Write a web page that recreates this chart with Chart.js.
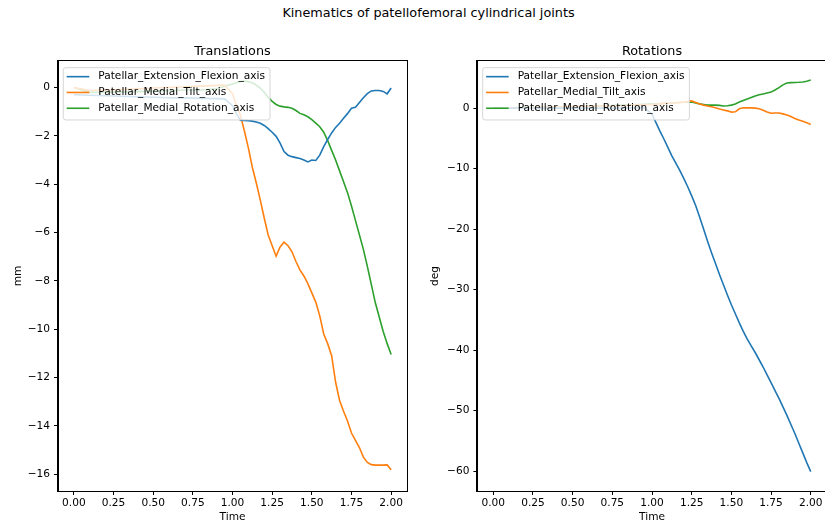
<!DOCTYPE html>
<html>
<head>
<meta charset="utf-8">
<script src="https://cdn.jsdelivr.net/npm/chart.js@4.4.0/dist/chart.umd.min.js"></script>
<style>
html, body { margin: 0; padding: 0; background: #fff; overflow: hidden; }
#page { position: relative; width: 825px; height: 531px; overflow: hidden; font-family: "DejaVu Sans", sans-serif; }
#suptitle { position: absolute; top: 4.5px; left: 0; width: 857px; text-align: center; font-size: 12.8px; line-height: 16px; color: #000; }
#leftChart { position: absolute; left: 0; top: 0; }
#rightChart { position: absolute; left: 420px; top: 0; }
</style>
</head>
<body>
<div id="page">
  <div id="suptitle">Kinematics of patellofemoral cylindrical joints</div>
  <canvas id="leftChart" width="420" height="531"></canvas>
  <canvas id="rightChart" width="420" height="531"></canvas>
</div>
<script>
// Zeitachse (s)
const time = [0, 0.1, 0.2, 0.3, 0.4, 0.5, 0.6, 0.7, 0.8, 0.9, 0.95,
  1.0, 1.025, 1.05, 1.075, 1.1, 1.125, 1.15, 1.175, 1.2, 1.225,
  1.25, 1.275, 1.3, 1.325, 1.35, 1.375, 1.4, 1.425, 1.45, 1.475,
  1.5, 1.525, 1.55, 1.575, 1.6, 1.625, 1.65, 1.675, 1.7, 1.725,
  1.75, 1.775, 1.8, 1.825, 1.85, 1.875, 1.9, 1.925, 1.95, 1.975, 2.0];

const seriesNames = ['Patellar_Extension_Flexion_axis', 'Patellar_Medial_Tilt_axis', 'Patellar_Medial_Rotation_axis'];
const seriesColors = ['#1f77b4', '#ff7f0e', '#2ca02c'];

// Translationen (mm)
const transFlexion = [-0.30, -0.32, -0.34, -0.36, -0.38, -0.40, -0.42, -0.43, -0.45, -0.46, -0.47,
  -0.75, -1.08, -1.35, -1.36, -1.37, -1.39, -1.43, -1.48, -1.57, -1.70,
  -1.85, -2.02, -2.30, -2.65, -2.80, -2.86, -2.90, -2.94, -3.00, -3.08,
  -3.00, -3.02, -2.80, -2.45, -2.15, -1.88, -1.65, -1.48, -1.27, -1.08,
  -0.86, -0.82, -0.62, -0.42, -0.25, -0.14, -0.12, -0.12, -0.16, -0.26, -0.02];
const transTilt = [0.00, -0.12, -0.10, -0.08, -0.05, -0.02, 0.00, 0.03, 0.06, 0.09, 0.10,
  -0.25, -0.75, -1.15, -1.80, -2.50, -3.30, -3.95, -4.65, -5.40, -6.10,
  -6.55, -6.98, -6.60, -6.40, -6.55, -6.80, -7.20, -7.55, -7.80, -8.12,
  -8.50, -8.88, -9.45, -10.20, -10.60, -11.10, -12.20, -12.95, -13.40, -13.80,
  -14.30, -14.60, -14.90, -15.30, -15.52, -15.61, -15.63, -15.63, -15.63, -15.62, -15.82];
const transRotation = [0.00, -0.20, -0.20, -0.18, -0.17, -0.15, -0.12, -0.10, -0.10, -0.05, 0.05,
  0.15, 0.20, 0.25, 0.27, 0.24, 0.20, 0.10, -0.02, -0.20, -0.40,
  -0.57, -0.70, -0.77, -0.80, -0.82, -0.86, -0.95, -1.07, -1.13, -1.21,
  -1.33, -1.47, -1.62, -1.85, -2.20, -2.60, -3.00, -3.45, -3.90, -4.35,
  -4.90, -5.50, -6.10, -6.70, -7.40, -8.15, -8.90, -9.50, -10.10, -10.60, -11.05];

// Rotationen (deg)
const rotFlexion = [0.00, 0.00, 0.00, 0.00, 0.00, 0.00, 0.00, 0.00, 0.00, 0.05, 0.10,
  -1.00, -2.40, -3.80, -5.10, -6.50, -7.90, -9.10, -10.30, -11.60, -13.00,
  -14.50, -16.10, -18.00, -20.00, -22.00, -23.90, -25.70, -27.50, -29.20, -30.90,
  -32.50, -34.00, -35.50, -36.90, -38.20, -39.30, -40.40, -41.60, -42.80, -44.10,
  -45.40, -46.70, -48.00, -49.40, -50.80, -52.30, -53.80, -55.40, -57.00, -58.60, -60.10];
const rotTilt = [0.00, 0.05, 0.10, 0.15, 0.20, 0.25, 0.30, 0.35, 0.40, 0.50, 0.55,
  0.60, 0.65, 0.70, 0.75, 0.80, 0.85, 0.90, 0.95, 1.00, 1.10,
  1.20, 0.95, 0.70, 0.50, 0.35, 0.22, 0.05, -0.15, -0.30, -0.45,
  -0.65, -0.60, -0.10, 0.05, 0.05, 0.05, 0.00, -0.10, -0.35, -0.62,
  -0.85, -0.80, -0.80, -0.95, -1.15, -1.40, -1.70, -1.95, -2.15, -2.40, -2.72];
const rotRotation = [0.00, 0.05, 0.10, 0.15, 0.20, 0.25, 0.30, 0.40, 0.50, 0.60, 0.65,
  0.70, 0.72, 0.75, 0.78, 0.82, 0.86, 0.90, 0.93, 0.97, 1.02,
  1.00, 0.85, 0.70, 0.60, 0.50, 0.50, 0.50, 0.45, 0.35, 0.40,
  0.50, 0.70, 1.00, 1.25, 1.50, 1.75, 2.00, 2.20, 2.35, 2.50,
  2.65, 3.00, 3.40, 3.85, 4.15, 4.22, 4.25, 4.27, 4.32, 4.45, 4.64];

// Achsenbeschriftungen
const timeTicks = [0, 0.25, 0.5, 0.75, 1.0, 1.25, 1.5, 1.75, 2.0];
const transTicks = [-16, -14, -12, -10, -8, -6, -4, -2, 0];
const rotTicks = [-60, -50, -40, -30, -20, -10, 0];

const FONT = '"DejaVu Sans", sans-serif';
const tickFont = { family: FONT, size: 10.6 };

// Rahmen um die Achsen + Legende innerhalb des Diagramms
const axesFrameAndLegend = {
    id: 'axesFrameAndLegend',
    afterDatasetsDraw(chart) {
        const ctx = chart.ctx;
        const a = chart.chartArea;
        ctx.save();
        ctx.strokeStyle = '#000';
        ctx.lineWidth = 1;
        const l = Math.round(a.left) - 0.5, t = Math.round(a.top) - 0.5;
        const r = Math.round(a.right) + 0.5, b = Math.round(a.bottom) + 0.5;
        ctx.strokeRect(l, t, r - l, b - t);

        // Legende
        ctx.font = '10.6px ' + FONT;
        const widths = chart.data.datasets.map(d => ctx.measureText(d.label).width);
        const bx = a.left + 5.3, by = a.top + 6.7;
        const bw = 35 + Math.max.apply(null, widths) + 5, bh = 52.3, rad = 2.5;
        ctx.beginPath();
        ctx.moveTo(bx + rad, by);
        ctx.lineTo(bx + bw - rad, by);
        ctx.arcTo(bx + bw, by, bx + bw, by + rad, rad);
        ctx.lineTo(bx + bw, by + bh - rad);
        ctx.arcTo(bx + bw, by + bh, bx + bw - rad, by + bh, rad);
        ctx.lineTo(bx + rad, by + bh);
        ctx.arcTo(bx, by + bh, bx, by + bh - rad, rad);
        ctx.lineTo(bx, by + rad);
        ctx.arcTo(bx, by, bx + rad, by, rad);
        ctx.closePath();
        ctx.fillStyle = 'rgba(255,255,255,0.8)';
        ctx.fill();
        ctx.strokeStyle = 'rgba(204,204,204,0.8)';
        ctx.stroke();

        chart.data.datasets.forEach(function(d, i) {
            const y = by + 9 + i * 15.8;
            ctx.beginPath();
            ctx.strokeStyle = d.borderColor;
            ctx.lineWidth = 1.6;
            ctx.moveTo(bx + 3.4, y);
            ctx.lineTo(bx + 26, y);
            ctx.stroke();
            ctx.fillStyle = '#000';
            ctx.textBaseline = 'middle';
            ctx.textAlign = 'left';
            ctx.fillText(d.label, bx + 35, y);
        });
        ctx.restore();
    }
};

function makeChart(canvasId, title, yLabel, series, yTicks, yMin, yMax, padLeft, yWidth, padRight) {
    const datasets = series.map(function(values, i) {
        return {
            label: seriesNames[i],
            data: time.map((t, k) => ({ x: t, y: values[k] })),
            borderColor: seriesColors[i],
            backgroundColor: seriesColors[i],
            borderWidth: 1.6,
            pointRadius: 0,
            tension: 0,
            fill: false
        };
    });

    const ctx = document.getElementById(canvasId).getContext('2d');
    return new Chart(ctx, {
        type: 'line',
        data: { datasets: datasets },
        plugins: [axesFrameAndLegend],
        options: {
            responsive: false,
            animation: false,
            layout: { padding: { left: padLeft, top: 43.8, right: padRight, bottom: 7 } },
            plugins: {
                legend: { display: false },
                tooltip: { enabled: false },
                title: {
                    display: true,
                    text: title,
                    fullSize: false,
                    color: '#000',
                    font: { family: FONT, size: 12.8, weight: 'normal' },
                    padding: { top: 0, bottom: 1.8 }
                }
            },
            scales: {
                x: {
                    type: 'linear',
                    min: -0.1,
                    max: 2.1,
                    afterBuildTicks: s => { s.ticks = timeTicks.map(v => ({ value: v })); },
                    afterFit: s => { s.height = 33; },
                    ticks: {
                        callback: v => v.toFixed(2),
                        color: '#000',
                        font: tickFont,
                        padding: 2,
                        maxRotation: 0,
                        autoSkip: false
                    },
                    grid: { display: true, drawOnChartArea: false, drawTicks: true, tickLength: 4, color: '#000', lineWidth: 1 },
                    border: { display: true, color: '#000', width: 1 },
                    title: { display: true, text: 'Time', color: '#000', font: tickFont, padding: { top: 0, bottom: 0 } }
                },
                y: {
                    type: 'linear',
                    min: yMin,
                    max: yMax,
                    afterBuildTicks: s => { s.ticks = yTicks.map(v => ({ value: v })); },
                    afterFit: s => { s.width = yWidth; },
                    ticks: {
                        callback: v => String(v).replace('-', '\u2212'),
                        color: '#000',
                        font: tickFont,
                        padding: 4,
                        autoSkip: false
                    },
                    grid: { display: true, drawOnChartArea: false, drawTicks: true, tickLength: 4, color: '#000', lineWidth: 1 },
                    border: { display: true, color: '#000', width: 1 },
                    title: { display: true, text: yLabel, color: '#000', font: tickFont, padding: { top: 4, bottom: 0 } }
                }
            }
        }
    });
}

makeChart('leftChart', 'Translations', 'mm', [transFlexion, transTilt, transRotation],
    transTicks, -16.7, 1.1, 8, 50, 13);
makeChart('rightChart', 'Rotations', 'deg', [rotFlexion, rotTilt, rotRotation],
    rotTicks, -63.3, 7.8, 5, 52.4, 13.4);
</script>
</body>
</html>
